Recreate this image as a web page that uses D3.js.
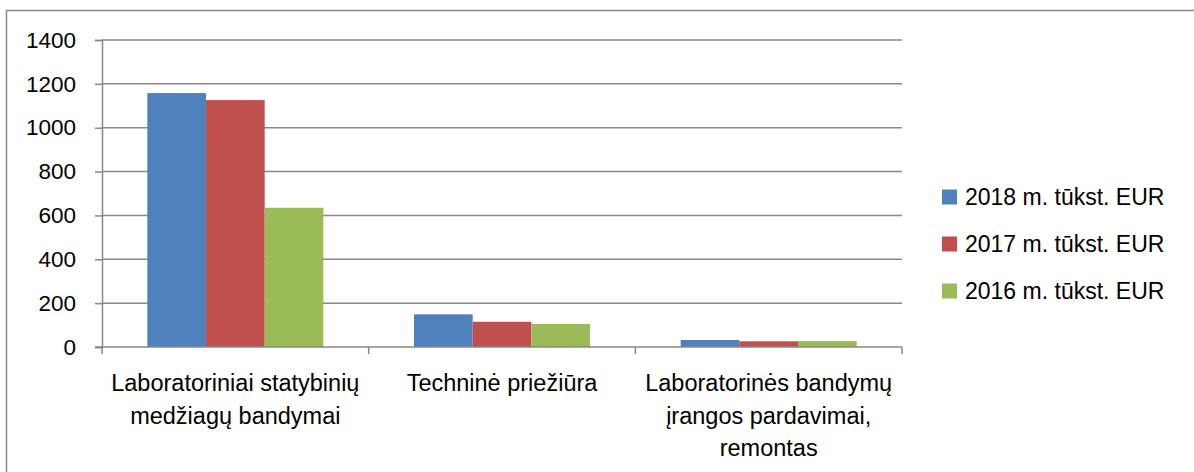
<!DOCTYPE html>
<html>
<head>
<meta charset="utf-8">
<script src="https://cdn.jsdelivr.net/npm/d3@7"></script>
<style>
  html, body { margin: 0; padding: 0; background: #fff; }
  svg { display: block; font-family: "Liberation Sans", Arial, sans-serif; }
</style>
</head>
<body>
<svg id="chart" width="1194" height="472"></svg>
<script>
const categories = [
  ["Laboratoriniai statybinių", "medžiagų bandymai"],
  ["Techninė priežiūra"],
  ["Laboratorinės bandymų", "įrangos pardavimai,", "remontas"]
];
const seriesNames = ["2018 m. tūkst. EUR", "2017 m. tūkst. EUR", "2016 m. tūkst. EUR"];
const values2018 = [1158, 149, 32];
const values2017 = [1126, 115, 26];
const values2016 = [635, 105, 27];
const yTicks = [0, 200, 400, 600, 800, 1000, 1200, 1400];
const colors = ["#4F81BD", "#C0504D", "#9BBB59"];

(function () {
const seriesValues = [values2018, values2017, values2016];
const svg = d3.select("#chart");
const axisColor = "#898989";

// outer frame
svg.append("rect").attr("x", 6.5).attr("y", 10.5).attr("width", 1300).attr("height", 600)
  .attr("fill", "none").attr("stroke", axisColor).attr("stroke-width", 1.5);

const pLeft = 102, pRight = 902, pTop = 40, pBottom = 347;
const catIdx = categories.map((d, i) => i);
const x0 = d3.scaleBand().domain(catIdx).range([pLeft, pRight]).paddingInner(0.34).paddingOuter(0.17);
const x1 = d3.scaleBand().domain([0, 1, 2]).range([0, x0.bandwidth()]);
const y = d3.scaleLinear().domain([0, 1400]).range([pBottom, pTop]);

// gridlines
svg.append("g").selectAll("line").data(yTicks.filter(d => d > 0)).join("line")
  .attr("x1", pLeft).attr("x2", pRight)
  .attr("y1", d => y(d)).attr("y2", d => y(d))
  .attr("stroke", axisColor).attr("stroke-width", 1.5);

// y axis
const yAxis = svg.append("g").attr("transform", `translate(${pLeft},0)`)
  .call(d3.axisLeft(y).tickValues(yTicks).tickSize(7).tickPadding(19).tickFormat(d3.format("d")));
yAxis.select(".domain").attr("stroke", axisColor).attr("stroke-width", 1.5);
yAxis.selectAll(".tick line").attr("stroke", axisColor).attr("stroke-width", 1.5);
yAxis.selectAll(".tick text").attr("fill", "#000").style("font-size", "22.5px")
  .style("font-family", "'Liberation Sans', Arial, sans-serif");

// bars
const groups = svg.append("g").selectAll("g").data(catIdx).join("g")
  .attr("transform", i => `translate(${x0(i)},0)`);
groups.selectAll("rect").data(i => seriesValues.map((vals, s) => ({ s, v: vals[i] }))).join("rect")
  .attr("x", d => x1(d.s)).attr("width", x1.bandwidth())
  .attr("y", d => y(d.v)).attr("height", d => y(0) - y(d.v))
  .attr("fill", d => colors[d.s]);

// x axis baseline + ticks
const xLine = svg.append("g");
xLine.append("line").attr("x1", pLeft - 7).attr("x2", pRight).attr("y1", pBottom).attr("y2", pBottom)
  .attr("stroke", axisColor).attr("stroke-width", 1.5);
const tickPos = catIdx.map(i => x0(i) - x0.step() * x0.paddingInner() / 2);
tickPos.push(pRight);
xLine.selectAll("line.t").data(tickPos).join("line").attr("class", "t")
  .attr("x1", d => d).attr("x2", d => d).attr("y1", pBottom).attr("y2", pBottom + 7)
  .attr("stroke", axisColor).attr("stroke-width", 1.5);

// category labels
const labels = svg.append("g").selectAll("text").data(catIdx).join("text")
  .attr("x", i => x0(i) + x0.bandwidth() / 2)
  .attr("y", 391)
  .attr("text-anchor", "middle")
  .style("font-size", "23.5px").attr("fill", "#000");
labels.selectAll("tspan").data(i => categories[i]).join("tspan")
  .attr("x", function () { return d3.select(this.parentNode).attr("x"); })
  .attr("dy", (d, j) => j === 0 ? 0 : 32.5)
  .text(d => d);

// legend
const legend = svg.append("g").attr("transform", "translate(942,0)");
const ly = [197, 244, 291];
seriesNames.forEach((name, s) => {
  legend.append("rect").attr("x", 0).attr("y", ly[s] - 7.5).attr("width", 15).attr("height", 15)
    .attr("fill", colors[s]);
  legend.append("text").attr("x", 23).attr("y", ly[s]).attr("dy", "0.36em")
    .style("font-size", "23px").attr("fill", "#000").text(name);
});
})();
</script>
</body>
</html>
